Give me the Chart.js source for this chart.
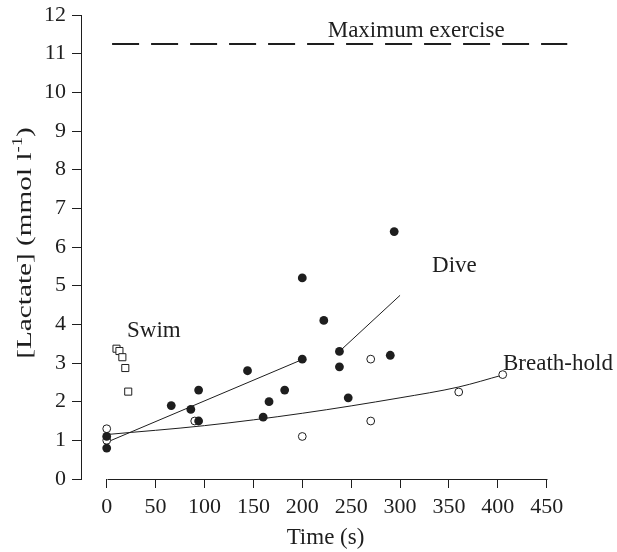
<!DOCTYPE html>
<html><head><meta charset="utf-8">
<script src="https://cdn.jsdelivr.net/npm/chart.js@4.4.1/dist/chart.umd.min.js"></script>
<style>html,body{margin:0;padding:0;background:#fff;} canvas{display:block;}</style>
</head><body>
<canvas id="c" width="617" height="552"></canvas>
<script>
// ---- data ----
const xTicks = [0, 50, 100, 150, 200, 250, 300, 350, 400, 450];
const yTicks = [0, 1, 2, 3, 4, 5, 6, 7, 8, 9, 10, 11, 12];

const diveTime    = [0, 0, 66, 86, 94, 94, 144, 160, 166, 182, 200, 200, 222, 238, 238, 247, 290, 294];
const diveLactate = [1.1, 0.8, 1.9, 1.8, 2.3, 1.5, 2.8, 1.6, 2.0, 2.3, 5.2, 3.1, 4.1, 3.3, 2.9, 2.1, 3.2, 6.4];

const breathTime    = [0, 0, 90, 200, 270, 270, 360, 405];
const breathLactate = [1.3, 1.0, 1.5, 1.1, 3.1, 1.5, 2.25, 2.7];

const swimTime    = [10, 13, 16, 19, 22];
const swimLactate = [3.37, 3.31, 3.15, 2.87, 2.26];

const diveFitTime    = [0, 200];
const diveFitLactate = [0.95, 3.09];
const diveLeaderTime    = [238, 300];
const diveLeaderLactate = [3.3, 4.75];

const breathFitTime    = [0, 100, 200, 300, 360, 405];
const breathFitLactate = [1.15, 1.38, 1.7, 2.1, 2.38, 2.69];

const maxExTime    = [5.5, 471];
const maxExLactate = [11.25, 11.25];

const annotationTexts = ['Maximum exercise', 'Swim', 'Dive', 'Breath-hold'];
const annotationTime    = [226, 20.8, 332.7, 405.3];
const annotationLactate = [11.44, 3.66, 5.35, 2.83];

// ---- styling ----
const INK = '#1e1e1e';
const FAMILY = '"Liberation Serif", "Times New Roman", serif';
const pts = (xs, ys) => xs.map((x, i) => ({x: x, y: ys[i]}));

const axesAndText = {
  id: 'axesAndText',
  afterDraw(chart) {
    const ctx = chart.ctx, xs = chart.scales.x, ys = chart.scales.y, ca = chart.chartArea;
    ctx.save();
    // detached x axis line, from first to last tick
    ctx.strokeStyle = INK; ctx.lineWidth = 1;
    ctx.beginPath();
    const yLine = Math.round(ca.bottom) + 0.5;
    ctx.moveTo(Math.round(xs.getPixelForValue(xTicks[0])) + 0.5, yLine);
    ctx.lineTo(Math.round(xs.getPixelForValue(xTicks[xTicks.length - 1])) + 0.5, yLine);
    ctx.stroke();
    // annotations
    ctx.fillStyle = INK;
    ctx.font = '23px ' + FAMILY;
    ctx.textAlign = 'left'; ctx.textBaseline = 'alphabetic';
    annotationTexts.forEach((t, i) => {
      ctx.fillText(t, xs.getPixelForValue(annotationTime[i]), ys.getPixelForValue(annotationLactate[i]));
    });
    // y axis title with superscript
    const cy = 243;
    ctx.translate(31, cy);
    ctx.rotate(-Math.PI / 2);
    ctx.scale(1.33, 1);
    const main = '[Lactate] (mmol l', sup = '-1', end = ')';
    ctx.font = '22px ' + FAMILY;
    const w1 = ctx.measureText(main).width, w3 = ctx.measureText(end).width;
    ctx.font = '14px ' + FAMILY;
    const w2 = ctx.measureText(sup).width;
    let x0 = -(w1 + w2 + w3) / 2;
    ctx.font = '22px ' + FAMILY;
    ctx.fillText(main, x0, 0);
    ctx.font = '14px ' + FAMILY;
    ctx.fillText(sup, x0 + w1, -9);
    ctx.font = '22px ' + FAMILY;
    ctx.fillText(end, x0 + w1 + w2, 0);
    ctx.restore();
  }
};

const tickFont = {family: FAMILY, size: 22};

new Chart(document.getElementById('c'), {
  type: 'scatter',
  data: {
    datasets: [
      {label: 'Dive', data: pts(diveTime, diveLactate), pointRadius: 4.4, pointBackgroundColor: INK, pointBorderColor: INK, pointBorderWidth: 0, showLine: false},
      {label: 'Breath-hold', data: pts(breathTime, breathLactate), pointRadius: 3.9, pointBackgroundColor: '#fff', pointBorderColor: INK, pointBorderWidth: 1, showLine: false},
      {label: 'Swim', data: pts(swimTime, swimLactate), pointStyle: 'rect', pointRadius: 5, pointBackgroundColor: '#fff', pointBorderColor: INK, pointBorderWidth: 1, showLine: false},
      {label: 'Dive fit', data: pts(diveFitTime, diveFitLactate), showLine: true, pointRadius: 0, borderColor: INK, borderWidth: 1},
      {label: 'Dive leader', data: pts(diveLeaderTime, diveLeaderLactate), showLine: true, pointRadius: 0, borderColor: INK, borderWidth: 1},
      {label: 'Breath-hold fit', data: pts(breathFitTime, breathFitLactate), showLine: true, pointRadius: 0, borderColor: INK, borderWidth: 1, cubicInterpolationMode: 'monotone'},
      {label: 'Maximum exercise', data: pts(maxExTime, maxExLactate), showLine: true, pointRadius: 0, borderColor: INK, borderWidth: 2, borderDash: [27, 12]}
    ]
  },
  options: {
    responsive: false, animation: false, devicePixelRatio: 1,
    layout: {padding: {top: 15, right: 47, bottom: 0, left: 0}},
    plugins: {legend: {display: false}, tooltip: {enabled: false}},
    scales: {
      x: {
        type: 'linear', min: -26.3, max: 473.8,
        afterBuildTicks: s => { s.ticks = xTicks.map(v => ({value: v})); },
        afterFit: s => { s.height = 73; s.paddingLeft = 0; s.paddingRight = 0; },
        grid: {drawOnChartArea: false, drawTicks: true, tickLength: 9, color: INK, lineWidth: 1},
        border: {display: false},
        ticks: {font: tickFont, color: INK, padding: 6, maxRotation: 0, autoSkip: false, callback: v => String(v)},
        title: {display: true, text: 'Time (s)', font: {family: FAMILY, size: 23}, color: INK, padding: {top: 0, bottom: 0}}
      },
      y: {
        type: 'linear', min: 0, max: 12,
        afterBuildTicks: s => { s.ticks = yTicks.map(v => ({value: v})); },
        afterFit: s => { s.width = 81; s.paddingTop = 0; s.paddingBottom = 0; },
        grid: {drawOnChartArea: false, drawTicks: true, tickLength: 9, color: INK, lineWidth: 1},
        border: {display: true, color: INK, width: 1},
        ticks: {font: tickFont, color: INK, padding: 6, autoSkip: false, callback: v => String(v)},
        title: {display: false}
      }
    }
  },
  plugins: [axesAndText]
});
</script>
</body></html>
